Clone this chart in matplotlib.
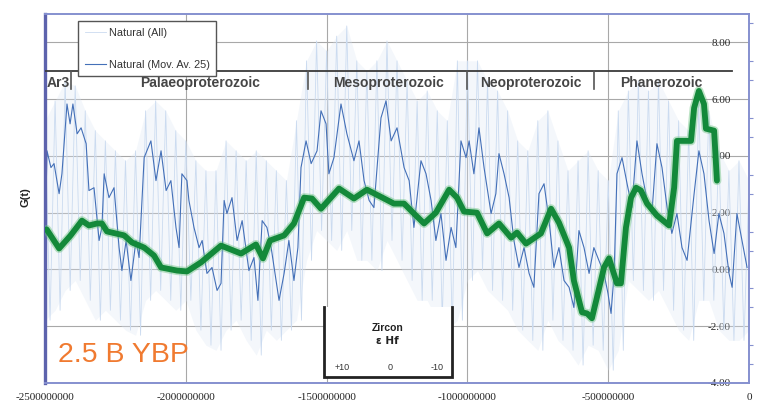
import numpy as np
import matplotlib
matplotlib.use('Agg')
import matplotlib.pyplot as plt
from matplotlib.ticker import FuncFormatter, AutoMinorLocator
from matplotlib.patches import Rectangle

# ---------------- data (time in Ma, G(t) values) ----------------
mov_t = [-2500, -2499, -2493, -2479, -2468, -2450, -2440, -2422, -2411, -2401,
         -2386, -2372, -2354, -2344, -2326, -2308, -2298, -2290, -2273, -2255,
         -2237, -2227, -2212, -2195, -2177, -2166, -2148, -2124, -2106, -2088,
         -2070, -2053, -2035, -2024, -2014, -1996, -1989, -1971, -1953, -1942,
         -1925, -1907, -1889, -1875, -1864, -1854, -1836, -1818, -1800, -1776,
         -1758, -1744, -1729, -1712, -1697, -1669, -1651, -1634, -1616, -1602,
         -1591, -1573, -1555, -1534, -1520, -1502, -1492, -1474, -1449, -1428,
         -1403, -1385, -1367, -1349, -1332, -1307, -1289, -1271, -1250, -1225,
         -1207, -1190, -1165, -1147, -1129, -1112, -1094, -1076, -1058, -1041,
         -1023, -1005, -994, -977, -959, -941, -916, -899, -888, -870,
         -852, -835, -817, -799, -781, -764, -746, -728, -710, -693,
         -675, -657, -639, -622, -604, -586, -568, -551, -533, -515,
         -501, -490, -479, -469, -451, -433, -416, -398, -380, -362,
         -345, -327, -309, -291, -274, -256, -238, -220, -195, -178,
         -160, -142, -124, -107, -89, -71, -60, -43, -25, -7]
mov_g = [-1.95, 1.4, 4.18, 3.59, 3.73, 2.67, 3.37, 5.83, 5.13, 5.83,
         4.78, 4.99, 4.43, 2.78, 2.88, 1.02, 1.48, 3.37, 2.53, 2.88,
         0.77, -0.04, 1.02, -0.39, 1.02, 0.42, 3.94, 4.53, 3.13, 4.18,
         2.78, 3.13, 1.48, 0.77, 3.37, 3.13, 2.43, 1.48, 0.77, 1.02,
         -0.14, 0.07, -0.74, -0.49, 2.43, 1.97, 2.53, 1.02, 1.72, -0.04,
         0.42, -1.09, 1.72, 1.48, 0.77, -1.09, -0.14, 1.02, -0.39, 0.77,
         3.59, 4.53, 3.73, 4.18, 5.59, 5.13, 3.37, 3.94, 5.83, 4.78,
         3.83, 4.53, 3.13, 2.43, 2.18, 5.34, 5.94, 4.53, 4.99, 3.59,
         3.13, 1.48, 3.83, 3.37, 2.43, 1.02, 1.97, 0.32, 1.48, 0.77,
         4.53, 3.94, 4.53, 3.37, 4.99, 3.59, 1.97, 2.67, 4.08, 3.37,
         2.53, 1.02, 0.07, 0.77, -0.14, -0.63, 2.67, 3.02, 1.72, 0.07,
         0.77, -0.39, -0.63, -1.34, 1.37, 0.77, -0.14, 0.77, 0.32, -0.14,
         -0.84, -1.55, -0.14, 3.37, 3.94, 3.02, 2.18, 4.53, 3.37, 2.43,
         1.97, 4.43, 3.59, 2.18, 1.27, 1.97, 0.77, 0.32, 2.67, 4.18,
         3.37, 1.72, 0.56, 1.97, 1.27, -0.14, -0.63, 1.97, 1.02, 0.07]

# "Natural (All)" spikes: highs and lows, sampled every ~35.7 Ma from -2500 Ma
all_hi = [5.24, 5.94, 6.64, 6.47, 5.59, 4.89, 4.53, 4.18, 3.83, 4.18,
          5.59, 5.94, 5.59, 4.89, 4.53, 3.83, 3.48, 3.48, 4.53, 4.18,
          3.83, 4.18, 3.83, 3.48, 3.13, 5.24, 7.35, 8.05, 7.70, 8.22,
          8.58, 7.35, 6.99, 7.35, 8.05, 7.35, 6.64, 5.94, 6.29, 5.59,
          5.24, 7.35, 7.35, 7.35, 6.64, 6.29, 5.59, 4.53, 4.18, 5.24,
          5.59, 4.53, 3.48, 3.83, 4.18, 3.48, 3.13, 5.59, 6.29, 6.64,
          6.29, 6.64, 5.94, 5.24, 4.89, 5.94, 5.59, 4.18, 3.48, 3.83,
          3.13]
all_lo = [-1.79, -1.44, -0.74, -0.39, -1.09, -1.79, -1.44, -1.79, -2.14, -2.32,
          -1.09, -0.74, -1.09, -1.44, -1.09, -2.14, -2.67, -2.85, -2.14, -1.79,
          -2.50, -3.02, -2.14, -2.50, -2.14, -1.79, 0.32, 1.37, 1.02, 0.67,
          1.37, 0.32, 0.32, -0.04, 1.02, 0.32, -0.39, -1.09, -1.09, -1.79,
          -2.14, -1.79, -0.39, -0.04, -0.74, -1.09, -1.44, -2.14, -2.50, -2.85,
          -1.79, -2.50, -2.85, -3.37, -2.67, -2.85, -3.55, -2.85, -0.39, -0.74,
          -1.09, -0.74, -1.44, -2.14, -2.50, -1.09, -1.09, -2.14, -2.50, -2.50,
          -2.14]

green_t = [-2494, -2450, -2409, -2369, -2344, -2315, -2298, -2280, -2219, -2191,
           -2148, -2113, -2088, -2031, -1996, -1946, -1875, -1804, -1751, -1726,
           -1701, -1651, -1616, -1580, -1552, -1520, -1456, -1403, -1357, -1296,
           -1261, -1225, -1190, -1154, -1112, -1065, -1037, -1012, -966, -930,
           -888, -845, -824, -792, -739, -703, -675, -639, -622, -593,
           -575, -558, -540, -515, -497, -469, -455, -437, -419, -401,
           -384, -362, -327, -284, -266, -256, -206, -195, -178, -160,
           -153, -124, -114]
green_g = [1.41, 0.74, 1.20, 1.72, 1.55, 1.62, 1.62, 1.34, 1.20, 0.95,
           0.77, 0.49, 0.07, -0.04, -0.07, 0.25, 0.84, 0.56, 0.88, 0.39,
           1.02, 1.20, 1.62, 2.53, 2.50, 2.14, 2.85, 2.50, 2.81, 2.50,
           2.32, 2.32, 1.97, 1.62, 2.00, 2.81, 2.53, 2.04, 2.00, 1.27,
           1.62, 1.12, 1.30, 0.91, 1.27, 2.14, 1.65, 0.77, -0.39, -1.51,
           -1.55, -1.72, -0.98, 0.07, 0.39, -0.49, -0.49, 1.48, 2.53, 2.88,
           2.78, 2.32, 1.90, 1.55, 2.88, 4.53, 4.53, 5.69, 6.29, 5.83,
           4.96, 4.89, 3.13]

era_names = ['Ar3', 'Palaeoproterozoic', 'Mesoproterozoic', 'Neoproterozoic', 'Phanerozoic']
era_label_t = [-2493, -1950, -1282, -774, -313]
era_bounds = [-2408, -1566, -1001, -550]
era_line_end = -60
era_level = 7.0
era_tick_bottom = 6.36
era_label_y = 6.57

xticks = [-2500000000, -2000000000, -1500000000, -1000000000, -500000000, 0]
yticks = [-4, -2, 0, 2, 4, 6, 8]
zircon_ticks = ['+10', '0', '-10']

MA = 1e6

# ---------------- figure ----------------
fig = plt.figure(figsize=(7.71, 4.07), dpi=100)
ax = fig.add_axes([0.0584, 0.059, 0.9131, 0.9066])
ax.set_xlim(-2.5e9, 0)
ax.set_ylim(-4, 9)

ax.set_xticks(xticks)
ax.set_yticks(yticks)
ax.grid(True, color='#a8a8a8', lw=0.8, zorder=0)
ax.set_axisbelow(True)

# Natural (All)
step = 2500.0 / (len(all_hi) - 1)
all_t = np.linspace(-2500, 0, len(all_hi))
zz_t = np.ravel(np.column_stack([all_t, all_t + step / 2])) * MA
zz_g = np.ravel(np.column_stack([all_hi, all_lo]))
ax.fill_between(all_t * MA, all_lo, all_hi, color='#dbe6f4', alpha=0.3, lw=0, zorder=1)
l_all, = ax.plot(zz_t, zz_g, color='#cbdbf0', lw=0.6, zorder=1.5, label='Natural (All)')

# Natural (Mov. Av. 25)
l_mov, = ax.plot(np.array(mov_t) * MA, mov_g, color='#4470b8', lw=0.8, zorder=2,
                 label='Natural (Mov. Av. 25)')

# Era bar
ax.plot([-2.5e9, era_line_end * MA], [era_level, era_level], color='#3a3a3a', lw=1.3, zorder=3)
for b in era_bounds:
    ax.plot([b * MA, b * MA], [era_level, era_tick_bottom], color='#555555', lw=1.2, zorder=3)
for i, (name, t) in enumerate(zip(era_names, era_label_t)):
    ax.text(t * MA, era_label_y, name, ha='left' if i == 0 else 'center', va='center',
            fontsize=10, fontweight='bold', color='#454545', family='Liberation Sans', zorder=3)

# Green curve (glow + core)
gt = np.array(green_t) * MA
ax.plot(gt, green_g, color='#6cc27f', lw=6.5, alpha=0.45, zorder=4,
        solid_capstyle='round', solid_joinstyle='round')
ax.plot(gt, green_g, color='#13893a', lw=4.2, zorder=4.5,
        solid_capstyle='round', solid_joinstyle='round')

# Spines
for s in ['top', 'bottom', 'right']:
    ax.spines[s].set_color('#8590cf')
    ax.spines[s].set_linewidth(1.4)
ax.spines['left'].set_color('#5d63ad')
ax.spines['left'].set_linewidth(2.4)

# Ticks
ax.xaxis.set_major_formatter(FuncFormatter(lambda v, p: f"{int(round(v))}"))
ax.tick_params(axis='x', length=0, pad=7, labelsize=8, labelcolor='#222222')
for lbl in ax.get_xticklabels():
    lbl.set_family('Liberation Serif')

ax.yaxis.set_ticks_position('right')
ax.yaxis.set_major_formatter(FuncFormatter(lambda v, p: f"{v:.2f}"))
ax.yaxis.set_minor_locator(AutoMinorLocator(3))
ax.tick_params(axis='y', which='major', length=0, pad=-13, labelsize=8, labelcolor='#2a2a2a')
ax.tick_params(axis='y', which='minor', direction='out', length=3, color='#8590cf', width=0.8)
for lbl in ax.get_yticklabels():
    lbl.set_family('Liberation Serif')
    lbl.set_horizontalalignment('right')

# Legend
leg = ax.legend(handles=[l_all, l_mov], loc='upper left', bbox_to_anchor=(0.047, 0.981),
                borderaxespad=0, labelspacing=2.05, handlelength=2.0,
                handletextpad=0.25, borderpad=0.6, fancybox=False, framealpha=1,
                edgecolor='#555555', prop={'family': 'Liberation Sans', 'size': 7.8})
leg.get_frame().set_linewidth(1.0)
leg.set_zorder(6)
for t in leg.get_texts():
    t.set_color('#333333')

# Zircon inset box
x0, x1, y0, y1 = 0.396, 0.578, 0.016, 0.206
ax.add_patch(Rectangle((x0, y0), x1 - x0, y1 - y0, transform=ax.transAxes,
                       facecolor='white', edgecolor='none', zorder=6))
ax.plot([x0, x0, x1, x1], [y1, y0, y0, y1], transform=ax.transAxes, color='#222222',
        lw=2.0, zorder=7, solid_joinstyle='miter')
xm = (x0 + x1) / 2
ax.text(xm, 0.149, 'Zircon', transform=ax.transAxes, ha='center', va='center',
        fontsize=7.5, fontweight='bold', family='Liberation Sans', color='#222222', zorder=8)
ax.text(xm, 0.114, 'ε Hf', transform=ax.transAxes, ha='center', va='center',
        fontsize=7.5, fontweight='bold', family='DejaVu Sans', color='#222222', zorder=8)
for xt, lab in zip([0.422, 0.490, 0.557], zircon_ticks):
    ax.text(xt, 0.041, lab, transform=ax.transAxes, ha='center', va='center',
            fontsize=6.5, family='Liberation Sans', color='#333333', zorder=8)

# Annotations
ax.text(0.018, 0.076, '2.5 B YBP', transform=ax.transAxes, ha='left', va='center',
        fontsize=20.5, color='#f07a30', family='Liberation Sans', zorder=8)
fig.text(25 / 771, 1 - 197 / 407, 'G(t)', rotation=90, ha='center', va='center',
         fontsize=8, fontweight='bold', color='#222222', family='Liberation Sans')

fig.savefig('out.png', dpi=100, facecolor='white')
